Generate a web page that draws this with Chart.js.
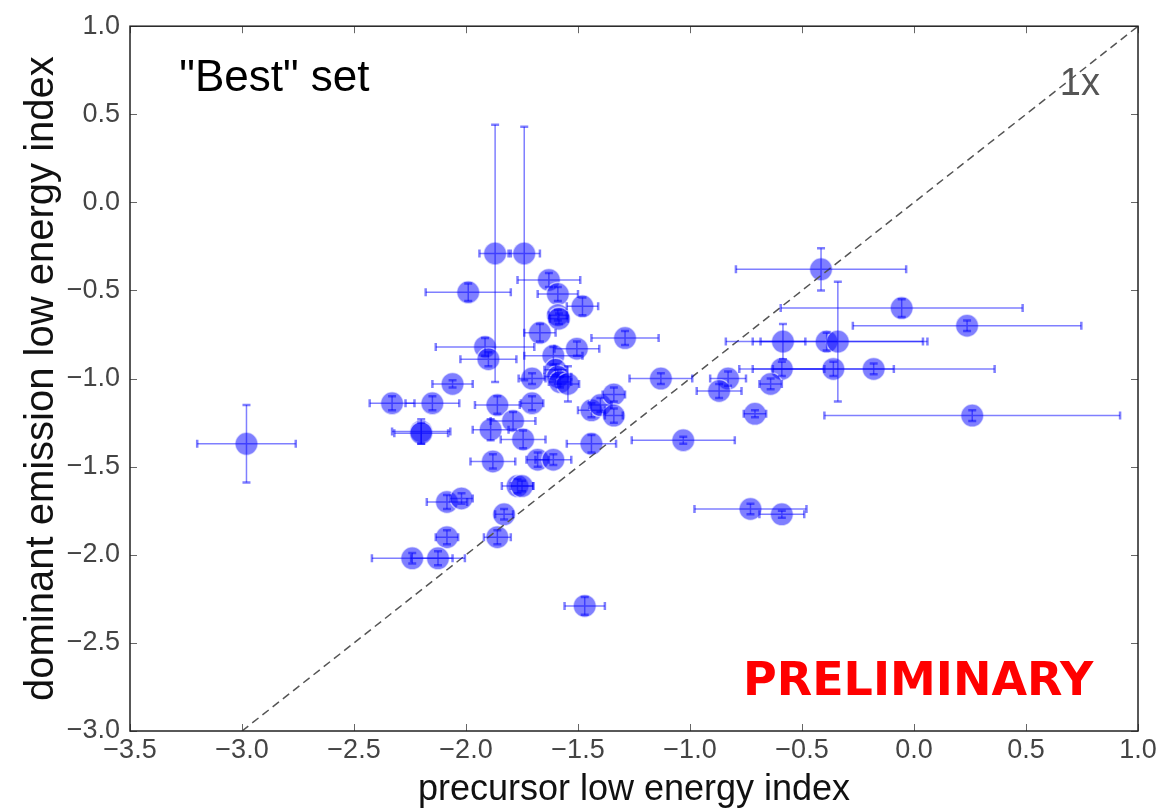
<!DOCTYPE html>
<html>
<head>
<meta charset="utf-8">
<script src="https://cdn.jsdelivr.net/npm/chart.js@4"></script>
<style>
  body { margin: 0; background: #fff; }
  canvas { display: block; }
</style>
</head>
<body>
<canvas id="scatter_chart" width="1167" height="812"></canvas>
<script>
// precursor index (x), dominant emission index (y), and their errors
var x_vals = [-2.98, -1.87, -1.74, -1.99, -1.63, -1.59, -1.48, -1.59, -1.585, -1.67,
              -1.29, -1.915, -1.90, -1.61, -1.505, -1.60, -1.59, -1.58, -1.545, -1.705,
              -2.06, -2.33, -2.15, -2.20, -2.20, -1.86, -1.705, -1.79, -1.89, -1.745,
              -1.44, -1.40, -1.34, -1.34, -1.44, -1.88, -1.68, -1.61, -1.77, -1.75,
              -2.085, -2.02, -1.83, -2.085, -1.86, -2.24, -2.125, -1.47, -0.415, -0.055,
              0.237, -0.585, -0.39, -0.34, -0.59, -0.36, -0.18, -0.83, -0.87, -0.64,
              -0.71, 0.26, -1.03, -1.13, -0.73, -0.59]
var y_vals = [-1.37, -0.29, -0.29, -0.51, -0.44, -0.52, -0.59, -0.64, -0.66, -0.74,
              -0.77, -0.82, -0.89, -0.87, -0.83, -0.95, -0.99, -1.02, -1.03, -1.00,
              -1.03, -1.14, -1.14, -1.30, -1.31, -1.15, -1.14, -1.24, -1.29, -1.345,
              -1.18, -1.15, -1.09, -1.21, -1.37, -1.47, -1.46, -1.46, -1.61, -1.61,
              -1.70, -1.68, -1.77, -1.90, -1.90, -2.02, -2.02, -2.29, -0.38, -0.60,
              -0.70, -0.79, -0.79, -0.79, -0.945, -0.945, -0.945, -1.00, -1.07, -1.03,
              -1.20, -1.21, -1.35, -1.00, -1.74, -1.77]
var x_err = [0.22, 0.07, 0.07, 0.19, 0.14, 0.09, 0.07, 0.04, 0.04, 0.07,
             0.15, 0.22, 0.125, 0.13, 0.10, 0.05, 0.06, 0.05, 0.05, 0.06,
             0.09, 0.10, 0.12, 0.13, 0.12, 0.10, 0.05, 0.10, 0.08, 0.10,
             0.06, 0.05, 0.05, 0.04, 0.11, 0.10, 0.05, 0.08, 0.07, 0.05,
             0.09, 0.05, 0.04, 0.05, 0.06, 0.18, 0.12, 0.09, 0.38, 0.54,
             0.51, 0.10, 0.45, 0.38, 0.19, 0.27, 0.54, 0.08, 0.10, 0.05,
             0.05, 0.66, 0.23, 0.14, 0.25, 0.10]
var y_err = [0.22, 0.73, 0.72, 0.05, 0.04, 0.04, 0.05, 0.03, 0.03, 0.05,
             0.04, 0.05, 0.04, 0.05, 0.04, 0.03, 0.04, 0.03, 0.10, 0.03,
             0.02, 0.04, 0.04, 0.07, 0.06, 0.05, 0.04, 0.05, 0.06, 0.05,
             0.04, 0.04, 0.04, 0.04, 0.05, 0.04, 0.04, 0.03, 0.04, 0.03,
             0.04, 0.03, 0.03, 0.04, 0.04, 0.03, 0.04, 0.05, 0.12, 0.05,
             0.03, 0.10, 0.05, 0.34, 0.04, 0.04, 0.03, 0.04, 0.04, 0.03,
             0.02, 0.03, 0.02, 0.03, 0.03, 0.02]
var one_to_one = [[-3.0, -3.0], [1.0, 1.0]]
var x_ticks = [-3.5, -3.0, -2.5, -2.0, -1.5, -1.0, -0.5, 0.0, 0.5, 1.0]
var y_ticks = [-3.0, -2.5, -2.0, -1.5, -1.0, -0.5, 0.0, 0.5, 1.0]

var points = []
for (let i = 0; i < x_vals.length; i++) {
    points.push({x: x_vals[i], y: y_vals[i]})
}

function fmt(v) {
    var s = Math.abs(v).toFixed(1)
    return v < -1e-9 ? '\u2212' + s : s
}

const errorBars = {
    id: 'errorBars',
    afterDatasetsDraw(chart) {
        const ctx = chart.ctx, xs = chart.scales.x, ys = chart.scales.y
        ctx.save()
        ctx.strokeStyle = 'rgba(0, 0, 255, 0.5)'
        for (let i = 0; i < x_vals.length; i++) {
            const px = xs.getPixelForValue(x_vals[i]), py = ys.getPixelForValue(y_vals[i])
            const x0 = xs.getPixelForValue(x_vals[i] - x_err[i]), x1 = xs.getPixelForValue(x_vals[i] + x_err[i])
            const y0 = ys.getPixelForValue(y_vals[i] - y_err[i]), y1 = ys.getPixelForValue(y_vals[i] + y_err[i])
            ctx.lineWidth = 1.5
            ctx.beginPath()
            ctx.moveTo(x0, py); ctx.lineTo(x1, py)
            ctx.moveTo(px, y0); ctx.lineTo(px, y1)
            ctx.stroke()
            ctx.lineWidth = 2.5
            ctx.beginPath()
            ctx.moveTo(x0, py - 4); ctx.lineTo(x0, py + 4)
            ctx.moveTo(x1, py - 4); ctx.lineTo(x1, py + 4)
            ctx.moveTo(px - 4, y0); ctx.lineTo(px + 4, y0)
            ctx.moveTo(px - 4, y1); ctx.lineTo(px + 4, y1)
            ctx.stroke()
        }
        ctx.restore()
    }
}

const frameAndText = {
    id: 'frameAndText',
    afterDraw(chart) {
        const ctx = chart.ctx, a = chart.chartArea, xs = chart.scales.x, ys = chart.scales.y
        ctx.save()
        // inward ticks on all four sides
        ctx.strokeStyle = '#666'
        ctx.lineWidth = 1
        ctx.beginPath()
        x_ticks.forEach(function (t) {
            const p = Math.round(xs.getPixelForValue(t)) + 0.5
            ctx.moveTo(p, a.bottom); ctx.lineTo(p, a.bottom - 7)
            ctx.moveTo(p, a.top); ctx.lineTo(p, a.top + 7)
        })
        y_ticks.forEach(function (t) {
            const p = Math.round(ys.getPixelForValue(t)) + 0.5
            ctx.moveTo(a.left, p); ctx.lineTo(a.left + 7, p)
            ctx.moveTo(a.right, p); ctx.lineTo(a.right - 7, p)
        })
        ctx.stroke()
        ctx.strokeStyle = '#222'
        ctx.lineWidth = 1.5
        ctx.strokeRect(a.left, a.top, a.right - a.left, a.bottom - a.top)

        ctx.textBaseline = 'middle'
        ctx.fillStyle = '#000'
        ctx.font = '44px "Liberation Sans", Arial, sans-serif'
        ctx.textAlign = 'left'
        ctx.fillText('"Best" set', xs.getPixelForValue(-3.28), ys.getPixelForValue(0.70))
        ctx.fillStyle = '#555'
        ctx.font = '38px "Liberation Sans", Arial, sans-serif'
        ctx.textAlign = 'right'
        ctx.fillText('1x', xs.getPixelForValue(0.83), ys.getPixelForValue(0.67))
        ctx.fillStyle = '#ff0000'
        ctx.font = 'bold 46px "DejaVu Sans", Verdana, sans-serif'
        ctx.textAlign = 'right'
        ctx.fillText('PRELIMINARY', xs.getPixelForValue(0.80), ys.getPixelForValue(-2.73))
        ctx.restore()
    }
}

const data = {
    datasets: [
        {
            type: 'line',
            data: one_to_one.map(function (p) { return {x: p[0], y: p[1]} }),
            borderColor: '#555',
            borderWidth: 1.5,
            borderDash: [8, 5],
            pointRadius: 0,
            fill: false,
            order: 0
        },
        {
            type: 'scatter',
            data: points,
            backgroundColor: 'rgba(0, 0, 255, 0.5)',
            borderColor: 'rgba(255, 255, 255, 0.6)',
            borderWidth: 1.5,
            pointRadius: 11.5,
            order: 1
        }
    ]
}

const config = {
    type: 'scatter',
    data: data,
    options: {
        responsive: false,
        animation: false,
        layout: { padding: { top: 25, right: 29, left: 0, bottom: 0 } },
        plugins: {
            legend: { display: false },
            tooltip: { enabled: false }
        },
        scales: {
            x: {
                type: 'linear',
                min: -3.5,
                max: 1.0,
                afterBuildTicks: function (s) { s.ticks = x_ticks.map(function (v) { return {value: v} }) },
                afterFit: function (s) { s.height = 81 },
                grid: { display: false, drawTicks: false },
                border: { display: false },
                ticks: {
                    padding: 3,
                    color: '#444',
                    font: { family: '"Liberation Sans", Arial, sans-serif', size: 27 },
                    callback: function (v) { return fmt(v) }
                },
                title: {
                    display: true,
                    text: 'precursor low energy index',
                    color: '#111',
                    padding: { top: 0, bottom: 0 },
                    font: { family: '"Liberation Sans", Arial, sans-serif', size: 36 }
                }
            },
            y: {
                type: 'linear',
                min: -3.0,
                max: 1.0,
                afterBuildTicks: function (s) { s.ticks = y_ticks.map(function (v) { return {value: v} }) },
                afterFit: function (s) { s.width = 130 },
                grid: { display: false, drawTicks: false },
                border: { display: false },
                ticks: {
                    padding: 10,
                    color: '#444',
                    font: { family: '"Liberation Sans", Arial, sans-serif', size: 27 },
                    callback: function (v) { return fmt(v) }
                },
                title: {
                    display: true,
                    text: 'dominant emission low energy index',
                    color: '#111',
                    padding: { top: 18, bottom: 0 },
                    font: { family: '"Liberation Sans", Arial, sans-serif', size: 40 }
                }
            }
        }
    },
    plugins: [errorBars, frameAndText]
}

const myChart = new Chart(document.getElementById('scatter_chart'), config)
</script>
</body>
</html>
